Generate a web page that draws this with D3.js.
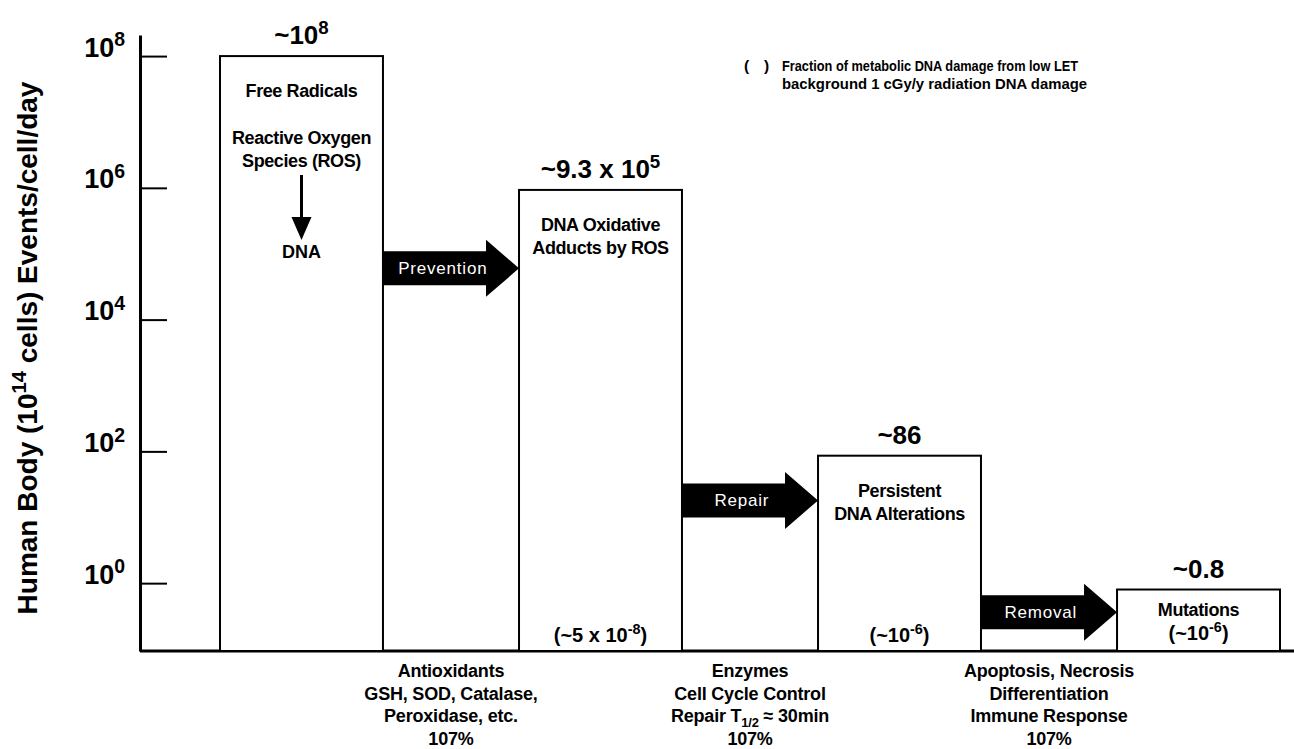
<!DOCTYPE html>
<html>
<head>
<meta charset="utf-8">
<script src="https://cdn.jsdelivr.net/npm/d3@7/dist/d3.min.js"></script>
<style>
  body { margin: 0; background: #fff; }
  svg { display: block; font-family: "Liberation Sans", Arial, Helvetica, sans-serif; }
</style>
</head>
<body>
<div id="chart"></div>
<script>
// stages of DNA damage, events per cell per day
var stages = ["Free Radicals", "DNA Oxidative Adducts", "Persistent DNA Alterations", "Mutations"];
var events = [1e8, 9.3e5, 86, 0.8];
var valueLabels = ["~10^{8}", "~9.3 x 10^{5}", "~86", "~0.8"];
var boxLines = [
    ["Free Radicals", "", "Reactive Oxygen", "Species (ROS)"],
    ["DNA Oxidative", "Adducts by ROS"],
    ["Persistent", "DNA Alterations"],
    ["Mutations"]
];
var boxTarget = ["DNA", null, null, null];
var fractions = [null, "(~5 x 10^{-8})", "(~10^{-6})", "(~10^{-6})"];

// processes between stages
var processes = ["Prevention", "Repair", "Removal"];
var processLevels = [6e4, 18, 0.36];
var mechanisms = [
    ["Antioxidants", "GSH, SOD, Catalase,", "Peroxidase, etc.", "107%"],
    ["Enzymes", "Cell Cycle Control", "Repair T_{1/2} \u2248 30min", "107%"],
    ["Apoptosis, Necrosis", "Differentiation", "Immune Response", "107%"]
];

var yTicks = [1e0, 1e2, 1e4, 1e6, 1e8];
var yTitle = "Human Body (10^{14} cells) Events/cell/day";
var legendLines = ["Fraction of metabolic DNA damage from low LET", "background 1 cGy/y radiation DNA damage"];

var W = 1294, H = 749;

var svg = d3.select("#chart").append("svg").attr("width", W).attr("height", H);

var y = d3.scaleLog()
        .domain([Math.pow(10, -1.03), Math.pow(10, 8.32)])
        .range([651, 35]);

var x = d3.scaleBand()
        .domain(stages)
        .range([220, 1280])
        .paddingInner(0.455)
        .paddingOuter(0);

var bw = x.bandwidth();
var yBase = y.range()[0];

// text with ^{sup} and _{sub}
function rich(text, str, fs) {
    var parts = str.split(/(\^\{[^}]*\}|_\{[^}]*\})/).filter(function (s) { return s !== ""; });
    var shift = 0;
    parts.forEach(function (p) {
        var m = p.match(/^([\^_])\{(.*)\}$/);
        var t = text.append("tspan");
        if (m) {
            var up = m[1] === "^" ? -0.38 * fs : 0.28 * fs;
            t.attr("dy", up - shift).attr("font-size", 0.72 * fs).text(m[2]);
            shift = up;
        } else {
            t.attr("dy", -shift).text(p);
            shift = 0;
        }
    });
}

// y axis
var yAxis = svg.append("g")
        .attr("transform", "translate(140,0)")
        .call(d3.axisLeft(y).tickValues(yTicks).tickSize(-27).tickSizeOuter(0).tickPadding(15).tickFormat(function () { return ""; }));
yAxis.select(".domain").attr("stroke-width", 3);
yAxis.selectAll(".tick line").attr("stroke-width", 2);
yAxis.selectAll(".tick text")
        .attr("font-size", 27)
        .attr("font-weight", "bold")
        .attr("fill", "#000")
        .attr("dy", "0.36em")
        .each(function (d) {
            rich(d3.select(this), "10^{" + Math.round(Math.log10(d)) + "}", 27);
        });

// baseline
svg.append("line")
        .attr("x1", 140).attr("x2", W)
        .attr("y1", yBase).attr("y2", yBase)
        .attr("stroke", "#000").attr("stroke-width", 3);

// y title
var yt = svg.append("text")
        .attr("transform", "translate(37," + (yBase + 45) / 2 + ") rotate(-90)")
        .attr("text-anchor", "middle")
        .attr("font-size", 28)
        .attr("font-weight", "bold");
rich(yt, yTitle, 28);

// bars
svg.selectAll(".bar")
        .data(stages)
        .enter().append("rect")
        .attr("class", "bar")
        .attr("x", function (d) { return x(d); })
        .attr("y", function (d, i) { return y(events[i]); })
        .attr("width", bw)
        .attr("height", function (d, i) { return yBase - y(events[i]); })
        .attr("fill", "#fff")
        .attr("stroke", "#000")
        .attr("stroke-width", 2);

// value labels above bars
stages.forEach(function (s, i) {
    var t = svg.append("text")
            .attr("x", x(s) + bw / 2)
            .attr("y", y(events[i]) - 12)
            .attr("text-anchor", "middle")
            .attr("font-size", 26)
            .attr("font-weight", "bold");
    rich(t, valueLabels[i], 26);
});

// labels inside bars
stages.forEach(function (s, i) {
    var top = y(events[i]);
    var cx = x(s) + bw / 2;
    var first = Math.min(41, (yBase - top) * 0.43);
    var last = top + first;
    boxLines[i].forEach(function (line, j) {
        last = top + first + j * 23.3;
        svg.append("text")
                .attr("x", cx)
                .attr("y", last)
                .attr("text-anchor", "middle")
                .attr("font-size", 18)
                .attr("font-weight", "bold")
                .attr("letter-spacing", -0.4)
                .text(line);
    });
    if (boxTarget[i]) {
        svg.append("line")
                .attr("x1", cx).attr("x2", cx)
                .attr("y1", last + 8).attr("y2", last + 54)
                .attr("stroke", "#000").attr("stroke-width", 3);
        svg.append("path")
                .attr("d", "M" + (cx - 10) + "," + (last + 50) + "L" + (cx + 10) + "," + (last + 50) + "L" + cx + "," + (last + 73) + "Z")
                .attr("fill", "#000");
        svg.append("text")
                .attr("x", cx)
                .attr("y", last + 91)
                .attr("text-anchor", "middle")
                .attr("font-size", 18)
                .attr("font-weight", "bold")
                .text(boxTarget[i]);
    }
    if (fractions[i]) {
        var ft = svg.append("text")
                .attr("x", cx)
                .attr("y", yBase - (i === 3 ? 11 : 9))
                .attr("text-anchor", "middle")
                .attr("font-size", 20)
                .attr("font-weight", "bold");
        rich(ft, fractions[i], 20);
    }
});

// process arrows between bars
processes.forEach(function (p, i) {
    var x0 = x(stages[i]) + bw,
            x1 = x(stages[i + 1]),
            cy = y(processLevels[i]),
            hl = 33, bh = 17, hh = 28.5;
    svg.append("path")
            .attr("d", "M" + x0 + "," + (cy - bh) + "L" + (x1 - hl) + "," + (cy - bh) + "L" + (x1 - hl) + "," + (cy - hh) +
                    "L" + x1 + "," + cy + "L" + (x1 - hl) + "," + (cy + hh) + "L" + (x1 - hl) + "," + (cy + bh) + "L" + x0 + "," + (cy + bh) + "Z")
            .attr("fill", "#000");
    svg.append("text")
            .attr("x", x0 + (x1 - x0) * 0.44)
            .attr("y", cy + 6)
            .attr("text-anchor", "middle")
            .attr("font-size", 17)
            .attr("letter-spacing", 0.8)
            .attr("fill", "#fff")
            .text(p);

    var mx = (x0 + x1) / 2;
    mechanisms[i].forEach(function (line, j) {
        var t = svg.append("text")
                .attr("x", mx)
                .attr("y", yBase + 26 + j * 22.5)
                .attr("text-anchor", "middle")
                .attr("font-size", 18)
                .attr("font-weight", "bold")
                .attr("letter-spacing", -0.2);
        rich(t, line, 18);
    });
});

// legend note (condensed to the width of the original)
var lg = svg.append("g").attr("font-weight", "bold").attr("font-size", 15.5);
lg.append("text").attr("x", 744).attr("y", 71).text("(");
lg.append("text").attr("x", 764).attr("y", 71).text(")");
var legendWidths = [296, 305];
legendLines.forEach(function (line, j) {
    lg.append("text")
            .attr("x", 782).attr("y", 71 + j * 17.5)
            .attr("textLength", legendWidths[j])
            .attr("lengthAdjust", "spacingAndGlyphs")
            .text(line);
});
</script>
</body>
</html>
